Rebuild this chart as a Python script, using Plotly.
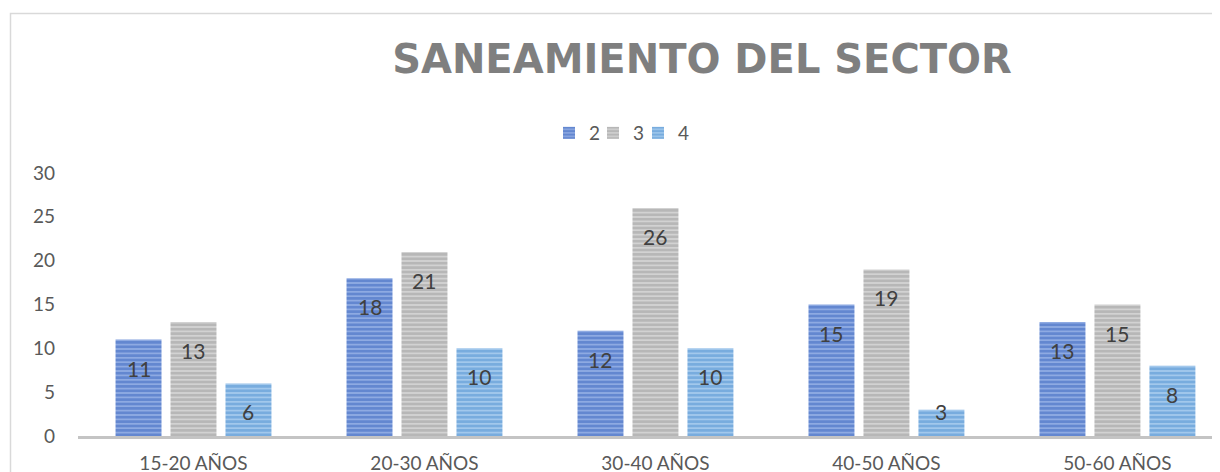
import plotly.graph_objects as go

categories = ["15-20 AÑOS", "20-30 AÑOS", "30-40 AÑOS", "40-50 AÑOS", "50-60 AÑOS"]
series_names = ["2", "3", "4"]
serie_2 = [11, 18, 12, 15, 13]
serie_3 = [13, 21, 26, 19, 15]
serie_4 = [6, 10, 10, 3, 8]
y_ticks = [0, 5, 10, 15, 20, 25, 30]

# the page body has an 8px margin, so the figure is 8px smaller than the window
W, H = 1212, 464
M_L, M_R, M_T, M_B = 70, 0, 165, 36
plot_w = W - M_L - M_R
plot_h = H - M_T - M_B
x_range = [-0.5, 4.444]
bargap = 0.286
px_per_cat = plot_w / (x_range[1] - x_range[0])
slot = px_per_cat * (1 - bargap) / 3
px_per_unit = plot_h / 30

styles = [
    ("#3864BE", "#8EAAE2"),
    ("#9C9C9C", "#D2D2D2"),
    ("#4D90D0", "#A2C8EC"),
]
legend_ids = ["legend", "legend2", "legend3"]
legend_left_px = [541, 585, 630]

fig = go.Figure()
annotations = []
for i, (name, vals) in enumerate(zip(series_names, [serie_2, serie_3, serie_4])):
    fg, bg = styles[i]
    fig.add_trace(go.Bar(
        name=name, x=categories, y=vals, legend=legend_ids[i], showlegend=True,
        marker=dict(
            color=bg,
            line=dict(width=0),
            pattern=dict(shape="-", fgcolor=fg, bgcolor=bg, size=4.4, solidity=0.6),
        ),
    ))
    for cat, v in zip(categories, vals):
        shift = -min(28.5, v * px_per_unit - 25)
        annotations.append(dict(
            x=cat, y=v, xref="x", yref="y", text=str(v), showarrow=False,
            xshift=(i - 1) * slot, yshift=shift,
            font=dict(family="Lato", size=21, color="#404040"),
        ))

# chart area outline (cropped on the right and bottom in the picture)
border = dict(
    type="rect", xref="paper", yref="paper",
    x0=(2.5 - M_L) / plot_w, x1=1.2,
    y0=-0.5, y1=(H - M_B - 5.5) / plot_h,
    line=dict(color="#D9D9D9", width=1.5), fillcolor="rgba(0,0,0,0)",
    layer="below",
)

legend_style = dict(
    orientation="h", yanchor="middle", y=(H - M_B - 125) / plot_h,
    xanchor="left", font=dict(family="Lato", size=19, color="#595959"),
    itemwidth=30, bgcolor="rgba(0,0,0,0)", borderwidth=0,
)
legends = {
    lid: dict(legend_style, x=(px - M_L) / plot_w)
    for lid, px in zip(legend_ids, legend_left_px)
}

fig.update_layout(
    width=W, height=H, showlegend=True,
    margin=dict(l=M_L, r=M_R, t=M_T, b=M_B, pad=0, autoexpand=False),
    paper_bgcolor="white", plot_bgcolor="white",
    barmode="group", bargap=bargap, bargroupgap=0.164,
    font=dict(family="Lato", size=19, color="#595959"),
    title=dict(
        text="<b>SANEAMIENTO DEL SECTOR</b>",
        x=694 / W, xanchor="center",
        y=1 - 51 / H, yanchor="middle",
        font=dict(family="DejaVu Sans", size=40, color="#7F7F7F"),
    ),
    xaxis=dict(
        range=x_range, showgrid=False, zeroline=False, automargin=False,
        showline=True, linecolor="#C4C4C4", linewidth=3,
        ticks="", ticklabelstandoff=8,
        tickfont=dict(family="Lato", size=19, color="#595959"),
    ),
    yaxis=dict(
        range=[0, 30], tickvals=y_ticks, showgrid=False, zeroline=False,
        automargin=False, showline=False, ticks="", ticklabelstandoff=22,
        tickfont=dict(family="Lato", size=19, color="#595959"),
    ),
    annotations=annotations,
    shapes=[border],
    **legends,
)

fig.write_html("out.html")
